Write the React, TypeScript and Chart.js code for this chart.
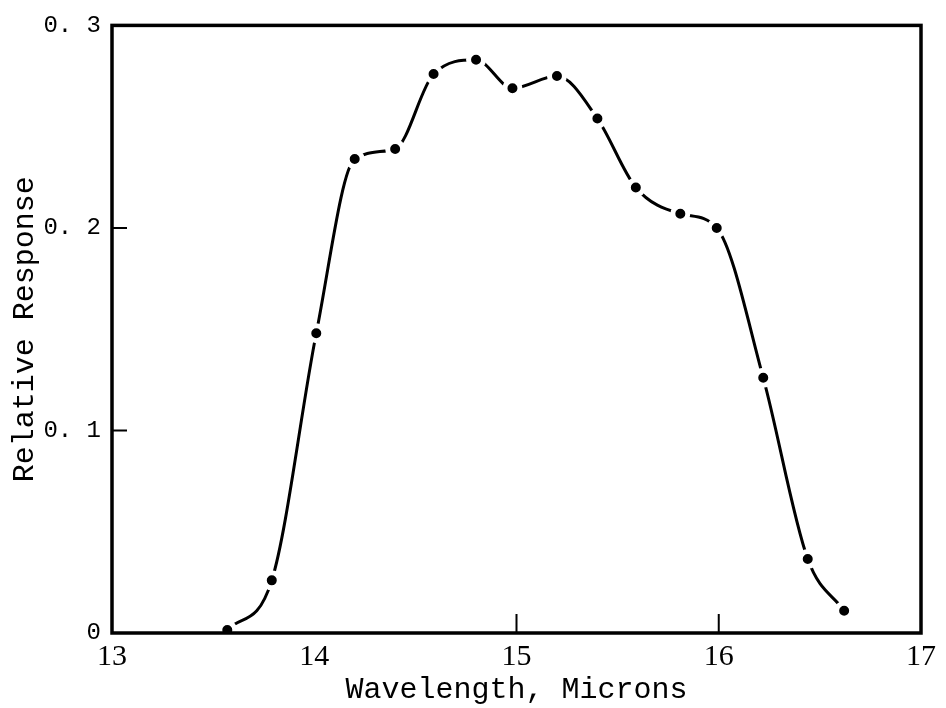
import React, { useEffect, useRef } from "react";
import { Chart, registerables } from "chart.js";

Chart.register(...registerables);

const wavelengths = [13.57, 13.79, 14.01, 14.2, 14.4, 14.59, 14.8, 14.98, 15.2, 15.4, 15.59, 15.81, 15.99, 16.22, 16.44, 16.62];
const responses = [0.0015, 0.026, 0.148, 0.234, 0.239, 0.276, 0.283, 0.269, 0.275, 0.254, 0.22, 0.207, 0.2, 0.126, 0.0365, 0.011];
const xInnerTicks = [15, 16];
const yInnerTicks = [0.1, 0.2];
const xTitle = "Wavelength, Microns";
const yTitle = "Relative Response";

const framePlugin = {
  id: "frame",
  afterDraw(chart: any) {
    const { ctx, chartArea: a, scales } = chart;
    ctx.save();
    ctx.strokeStyle = "#000";
    ctx.lineWidth = 3.5;
    ctx.strokeRect(a.left, a.top, a.right - a.left, a.bottom - a.top);
    ctx.lineWidth = 2;
    ctx.beginPath();
    for (const v of xInnerTicks) {
      const px = scales.x.getPixelForValue(v);
      ctx.moveTo(px, a.bottom);
      ctx.lineTo(px, a.bottom - 19);
    }
    for (const v of yInnerTicks) {
      const py = scales.y.getPixelForValue(v);
      ctx.moveTo(a.left, py);
      ctx.lineTo(a.left + 15, py);
    }
    ctx.stroke();
    ctx.restore();
  },
};

export default function App() {
  const ref = useRef<HTMLCanvasElement | null>(null);
  useEffect(() => {
    document.body.style.margin = "0";
    if (!ref.current) return;
    const chart = new Chart(ref.current, {
      type: "line",
      data: {
        datasets: [
          {
            data: wavelengths.map((x, i) => ({ x, y: responses[i] })),
            borderColor: "#000",
            borderWidth: 3,
            backgroundColor: "#000",
            pointBackgroundColor: "#000",
            pointBorderColor: "#fff",
            pointBorderWidth: 5,
            pointRadius: 7.5,
            cubicInterpolationMode: "monotone",
            fill: false,
          },
        ],
      },
      options: {
        responsive: false,
        animation: false,
        layout: { padding: { top: 25, right: 25, left: 0, bottom: 0 } },
        plugins: { legend: { display: false }, tooltip: { enabled: false } },
        scales: {
          x: {
            type: "linear",
            min: 13,
            max: 17,
            ticks: {
              stepSize: 1,
              color: "#000",
              padding: 6,
              font: { family: "Liberation Serif", size: 30 },
            },
            grid: { display: false, drawTicks: false },
            border: { display: false },
            title: {
              display: true,
              text: xTitle,
              color: "#000",
              padding: { top: 0, bottom: 0 },
              font: { family: "Liberation Mono", size: 30 },
            },
            afterFit: (s: any) => {
              s.height = 708 - 633;
            },
          },
          y: {
            type: "linear",
            min: 0,
            max: 0.3,
            ticks: {
              stepSize: 0.1,
              color: "#000",
              padding: 11,
              font: { family: "Liberation Mono", size: 24 },
              callback: (v: any) => (Math.abs(v) < 1e-9 ? "0" : Number(v).toFixed(1).replace(".", ". ")),
            },
            grid: { display: false, drawTicks: false },
            border: { display: false },
            title: {
              display: true,
              text: yTitle,
              color: "#000",
              padding: { top: 7, bottom: 0 },
              font: { family: "Liberation Mono", size: 30 },
            },
            afterFit: (s: any) => {
              s.width = 112;
            },
          },
        },
      },
      plugins: [framePlugin],
    });
    return () => chart.destroy();
  }, []);
  return (
    <div style={{ width: 946, height: 708, background: "#fff" }}>
      <canvas ref={ref} width={946} height={708} />
    </div>
  );
}
